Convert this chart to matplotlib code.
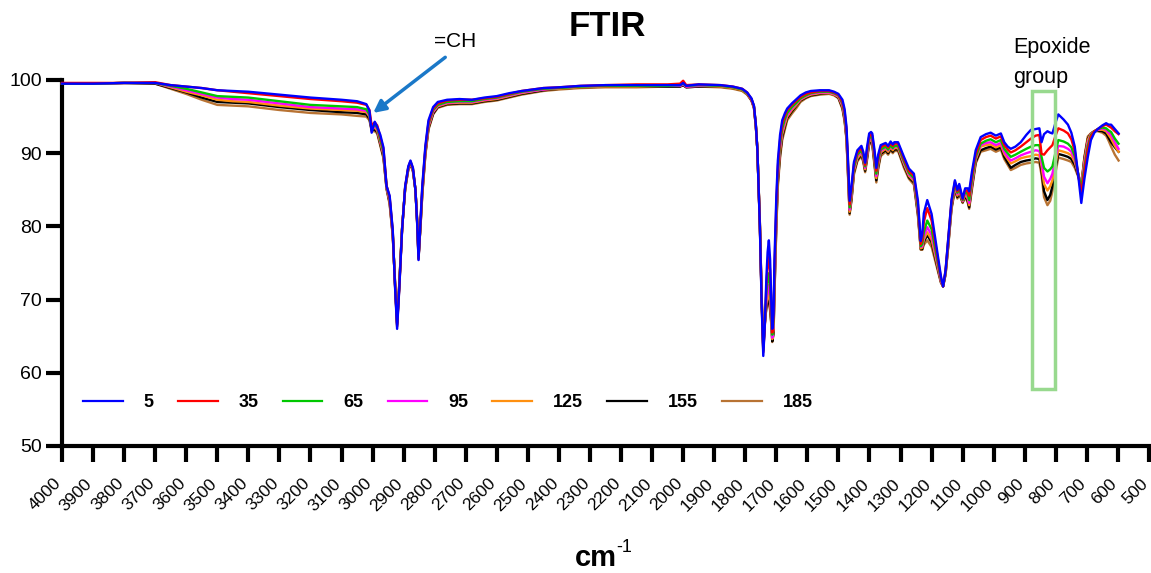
import matplotlib
matplotlib.use("Agg")
import matplotlib.pyplot as plt
from matplotlib.patches import Rectangle
from matplotlib.lines import Line2D

plt.rcParams['font.family'] = ['Liberation Sans', 'DejaVu Sans']

wavenumber = [
    4000, 3900, 3800, 3700, 3650, 3600, 3550, 3500, 3450, 3400,
    3300, 3200, 3100, 3050, 3020, 3010, 3003, 2993, 2985, 2975,
    2965, 2955, 2945, 2935, 2928, 2921, 2914, 2905, 2895, 2885,
    2878, 2870, 2862, 2856, 2852, 2846, 2840, 2830, 2820, 2805,
    2790, 2760, 2720, 2680, 2640, 2600, 2560, 2520, 2450, 2400,
    2330, 2250, 2150, 2050, 2010, 2000, 1990, 1950, 1880, 1840,
    1810, 1794, 1780, 1772, 1766, 1761, 1753, 1747, 1742, 1737,
    1732, 1728, 1724, 1720, 1716, 1713, 1709, 1706, 1700, 1695,
    1688, 1681, 1672, 1665, 1650, 1635, 1622, 1605, 1589, 1560,
    1530, 1514, 1500, 1487, 1480, 1474, 1468, 1464, 1458, 1450,
    1439, 1426, 1420, 1414, 1408, 1401, 1395, 1391, 1384, 1378,
    1372, 1364, 1348, 1340, 1332, 1325, 1320, 1308, 1289, 1273,
    1257, 1244, 1235, 1230, 1225, 1214, 1200, 1184, 1170, 1163,
    1155, 1147, 1136, 1125, 1117, 1111, 1100, 1092, 1084, 1079,
    1070, 1058, 1042, 1025, 1010, 993, 977, 966, 955, 945,
    930, 913, 895, 880, 865, 853, 846, 838, 827, 818,
    811, 800, 792, 775, 761, 750, 739, 728, 718, 708,
    697, 687, 676, 665, 650, 638, 630, 622, 610, 598,
]

t5 = [
    99.5, 99.5, 99.6, 99.6, 99.3, 99.1, 98.9, 98.6, 98.5, 98.4,
    98.0, 97.6, 97.3, 97.1, 96.7, 95.8, 92.8, 94.3, 93.6, 92.5,
    90.8, 85.5, 84.2, 79.5, 72.0, 66.0, 71.5, 79.5, 85.5, 88.2,
    89.0, 88.0, 85.0, 80.0, 75.4, 80.5, 85.5, 91.0, 94.5, 96.3,
    97.0, 97.3, 97.4, 97.3, 97.6, 97.8, 98.2, 98.5, 98.9, 99.0,
    99.2, 99.3, 99.3, 99.3, 99.3, 99.6, 99.2, 99.4, 99.3, 99.1,
    98.8, 98.3, 97.5, 96.5, 94.0, 90.5, 80.0, 69.0, 62.3, 66.5,
    73.0, 76.5, 78.1, 75.5, 69.5, 66.0, 68.0, 75.3, 84.0, 89.0,
    92.5, 94.5, 95.5, 96.1, 96.8, 97.4, 97.9, 98.3, 98.5, 98.6,
    98.6, 98.4, 98.1, 97.3, 96.0, 93.6, 88.0, 83.5, 85.5, 88.8,
    90.4, 91.0, 90.2, 88.7, 90.8, 92.7, 92.9, 92.7, 90.5, 88.0,
    89.8, 91.1, 91.4, 91.0, 91.6, 91.2, 91.5, 91.5, 89.5, 87.9,
    87.2, 83.5, 78.0, 79.0, 81.8, 83.6, 81.7, 77.2, 73.2, 71.8,
    74.0, 78.1, 83.6, 86.3, 85.0, 85.8, 83.8, 85.2, 85.2, 84.8,
    87.5, 90.4, 92.2, 92.6, 92.8, 92.4, 92.7, 91.5, 90.9, 90.6,
    90.9, 91.5, 92.5, 93.2, 93.3, 93.4, 91.5, 92.6, 93.0, 92.8,
    92.7, 94.3, 95.3, 94.6, 93.9, 92.8, 90.9, 87.0, 83.2, 86.5,
    89.5, 91.8, 92.8, 93.3, 93.8, 94.1, 93.9, 93.9, 93.3, 92.7,
]

t35 = [
    99.6, 99.6, 99.6, 99.7, 99.3, 99.1, 98.9, 98.6, 98.4, 98.2,
    97.8, 97.4, 97.1, 96.9, 96.6, 95.9, 93.8, 94.2, 93.8, 92.2,
    90.6, 85.6, 84.0, 79.3, 72.2, 66.3, 71.6, 79.5, 85.4, 88.1,
    88.9, 87.9, 85.0, 80.1, 75.5, 80.3, 85.2, 90.7, 94.2, 96.1,
    96.8, 97.2, 97.3, 97.3, 97.5, 97.7, 98.1, 98.5, 98.9, 99.0,
    99.2, 99.3, 99.4, 99.4, 99.5, 99.9, 99.3, 99.4, 99.3, 99.1,
    98.8, 98.3, 97.4, 96.4, 93.9, 90.5, 80.1, 69.3, 62.8, 66.5,
    72.0, 74.5, 75.8, 74.0, 69.0, 65.5, 67.5, 74.0, 83.0, 88.2,
    91.8, 94.0, 95.2, 95.9, 96.6, 97.2, 97.7, 98.1, 98.3, 98.5,
    98.5, 98.3, 98.0, 97.0, 95.6, 93.2, 87.5, 83.0, 85.0, 88.5,
    90.1, 90.7, 89.9, 88.4, 90.4, 92.3, 92.6, 92.4, 90.0, 87.6,
    89.4, 90.8, 91.2, 90.8, 91.4, 91.0, 91.3, 91.3, 89.2, 87.6,
    86.9, 83.0, 77.6, 78.2, 80.6, 82.5, 80.8, 76.6, 73.0, 71.8,
    74.0, 78.0, 83.4, 86.1, 84.8, 85.5, 83.7, 85.0, 84.8, 84.2,
    87.0, 89.9, 91.8, 92.2, 92.4, 92.0, 92.3, 91.1, 90.5, 90.1,
    90.4, 90.9, 91.5, 92.0, 92.4, 92.5, 89.9, 89.8, 90.4, 90.8,
    91.1, 92.5, 93.4, 93.1, 92.7, 91.9, 90.3, 87.0, 84.6, 87.5,
    90.5, 92.3, 93.0, 93.3, 93.7, 93.9, 93.7, 93.5, 93.0, 92.6,
]

t65 = [
    99.5, 99.5, 99.6, 99.6, 99.2, 98.8, 98.3, 97.8, 97.7, 97.6,
    97.1, 96.6, 96.4, 96.3, 96.0, 95.3, 93.5, 93.9, 93.5, 91.8,
    90.2, 85.5, 83.8, 79.2, 72.3, 66.5, 71.8, 79.6, 85.3, 88.0,
    88.8, 87.8, 85.0, 80.2, 75.6, 80.1, 85.0, 90.5, 94.0, 95.9,
    96.6, 97.0, 97.1, 97.1, 97.4, 97.6, 98.0, 98.4, 98.8, 98.9,
    99.1, 99.2, 99.2, 99.2, 99.3, 99.5, 99.2, 99.3, 99.2, 99.0,
    98.7, 98.2, 97.4, 96.4, 93.9, 90.5, 80.2, 69.5, 63.0, 66.6,
    71.0, 72.5, 73.6, 72.0, 68.0, 65.2, 67.0, 73.0, 82.0, 87.5,
    91.2, 93.4, 94.7, 95.5, 96.3, 96.9, 97.5, 97.9, 98.2, 98.4,
    98.4, 98.2, 97.9, 96.8, 95.3, 92.8, 87.0, 82.6, 84.6, 88.1,
    89.8, 90.4, 89.6, 88.2, 90.1, 92.0, 92.3, 92.1, 89.6, 87.2,
    89.0, 90.5, 90.9, 90.5, 91.1, 90.7, 91.0, 91.0, 88.9, 87.3,
    86.6, 82.5, 77.3, 77.6, 79.2, 80.8, 79.6, 76.0, 72.8, 71.8,
    73.8, 77.7, 83.1, 85.8, 84.6, 85.2, 83.6, 84.8, 84.4, 83.6,
    86.4, 89.5, 91.3, 91.7, 91.9, 91.5, 91.8, 90.6, 90.0, 89.5,
    89.8, 90.2, 90.6, 90.9, 91.1, 91.1, 89.5, 88.0, 87.5, 87.8,
    88.2, 90.3, 91.8, 91.6, 91.3, 90.8, 89.6, 87.2, 85.3, 88.0,
    91.0, 92.5, 93.0, 93.3, 93.5, 93.4, 93.1, 92.9, 92.0, 91.3,
]

t95 = [
    99.5, 99.5, 99.6, 99.6, 99.1, 98.6, 98.1, 97.6, 97.4, 97.3,
    96.8, 96.3, 96.1, 96.0, 95.8, 95.2, 93.4, 93.7, 93.3, 91.6,
    90.0, 85.4, 83.6, 79.0, 72.4, 66.6, 71.9, 79.6, 85.3, 87.9,
    88.7, 87.7, 85.0, 80.3, 75.7, 80.0, 84.8, 90.3, 93.8, 95.7,
    96.5, 96.9, 97.0, 97.0, 97.3, 97.5, 97.9, 98.3, 98.7, 98.9,
    99.1, 99.2, 99.2, 99.2, 99.2, 99.4, 99.1, 99.2, 99.2, 99.0,
    98.7, 98.2, 97.3, 96.3, 93.8, 90.5, 80.3, 69.7, 63.2, 66.7,
    70.0, 71.0, 72.0, 70.5, 67.5, 64.8, 66.5, 72.0, 81.3, 87.0,
    90.8, 93.0, 94.4, 95.2, 96.1, 96.8, 97.4, 97.8, 98.1, 98.3,
    98.3, 98.1, 97.8, 96.6, 95.0, 92.5, 86.7, 82.3, 84.3, 87.9,
    89.6, 90.2, 89.4, 88.0, 89.8, 91.8, 92.0, 91.8, 89.3, 86.9,
    88.7, 90.3, 90.8, 90.4, 91.0, 90.6, 90.9, 90.9, 88.7, 87.1,
    86.4, 82.2, 77.2, 77.3, 78.6, 79.9, 78.8, 75.6, 72.6, 71.8,
    73.7, 77.5, 82.9, 85.6, 84.4, 85.0, 83.5, 84.6, 84.1, 83.2,
    86.0, 89.3, 91.1, 91.4, 91.5, 91.1, 91.4, 90.2, 89.5, 89.0,
    89.3, 89.7, 90.0, 90.2, 90.4, 90.3, 88.8, 86.8, 85.9, 86.5,
    87.2, 89.6, 91.0, 90.9, 90.6, 90.2, 89.2, 87.2, 85.5, 88.5,
    91.4, 92.6, 93.0, 93.2, 93.4, 93.2, 92.8, 92.5, 91.5, 90.6,
]

t125 = [
    99.5, 99.5, 99.6, 99.6, 99.0, 98.4, 97.9, 97.3, 97.1, 97.0,
    96.5, 96.1, 95.9, 95.8, 95.6, 95.0, 93.3, 93.5, 93.1, 91.4,
    89.8, 85.3, 83.4, 78.9, 72.5, 66.7, 72.0, 79.7, 85.2, 87.9,
    88.7, 87.7, 85.0, 80.4, 75.8, 79.9, 84.6, 90.1, 93.6, 95.6,
    96.4, 96.8, 96.9, 96.9, 97.2, 97.4, 97.8, 98.2, 98.7, 98.8,
    99.0, 99.1, 99.1, 99.2, 99.2, 99.4, 99.1, 99.2, 99.1, 98.9,
    98.6, 98.1, 97.3, 96.3, 93.8, 90.5, 80.4, 69.9, 63.4, 66.8,
    69.5, 70.3, 71.0, 69.5, 67.0, 64.6, 66.0, 71.5, 80.8, 86.5,
    90.3, 92.6, 94.0, 95.0, 95.9, 96.6, 97.3, 97.7, 98.0, 98.2,
    98.2, 98.0, 97.7, 96.4, 94.8, 92.2, 86.4, 82.0, 84.0, 87.6,
    89.3, 90.0, 89.2, 87.8, 89.6, 91.6, 91.8, 91.6, 89.0, 86.6,
    88.4, 90.1, 90.6, 90.2, 90.8, 90.4, 90.7, 90.7, 88.5, 86.9,
    86.2, 82.0, 77.0, 77.1, 78.2, 79.2, 78.2, 75.2, 72.5, 71.8,
    73.6, 77.3, 82.7, 85.4, 84.2, 84.8, 83.4, 84.4, 83.8, 82.9,
    85.7, 89.1, 90.9, 91.1, 91.2, 90.8, 91.1, 89.9, 89.2, 88.6,
    88.9, 89.3, 89.5, 89.6, 89.8, 89.7, 88.2, 85.8, 84.9, 85.5,
    86.3, 88.8, 90.4, 90.2, 90.0, 89.7, 88.8, 87.2, 85.6, 89.0,
    91.8, 92.7, 93.0, 93.2, 93.2, 93.0, 92.5, 92.0, 91.0, 90.2,
]

t155 = [
    99.5, 99.5, 99.6, 99.5, 98.9, 98.3, 97.6, 97.0, 96.9, 96.8,
    96.3, 95.9, 95.6, 95.5, 95.3, 94.7, 93.2, 93.2, 92.9, 91.2,
    89.5, 85.2, 83.2, 78.8, 72.6, 66.8, 72.1, 79.7, 85.2, 87.8,
    88.6, 87.6, 85.0, 80.5, 75.9, 79.8, 84.4, 89.9, 93.4, 95.4,
    96.3, 96.7, 96.8, 96.8, 97.1, 97.3, 97.7, 98.1, 98.6, 98.8,
    99.0, 99.1, 99.1, 99.1, 99.1, 99.3, 99.0, 99.1, 99.1, 98.9,
    98.6, 98.1, 97.2, 96.2, 93.7, 90.5, 80.5, 70.0, 63.5, 66.8,
    69.0, 69.7, 70.0, 68.8, 66.7, 64.3, 65.5, 71.0, 80.2, 86.0,
    89.8, 92.2, 93.7, 94.8, 95.7, 96.5, 97.2, 97.6, 97.9, 98.1,
    98.2, 98.0, 97.6, 96.2, 94.5, 92.0, 86.1, 81.8, 83.7, 87.4,
    89.1, 89.8, 89.0, 87.6, 89.3, 91.4, 91.5, 91.4, 88.7, 86.3,
    88.1, 89.9, 90.4, 90.0, 90.6, 90.2, 90.5, 90.5, 88.3, 86.7,
    86.0, 81.7, 76.9, 76.9, 77.9, 78.8, 77.8, 74.9, 72.4, 71.8,
    73.5, 77.1, 82.5, 85.2, 84.0, 84.6, 83.3, 84.2, 83.5, 82.6,
    85.4, 88.8, 90.4, 90.7, 90.9, 90.5, 90.8, 89.5, 88.7, 88.0,
    88.4, 88.8, 89.0, 89.1, 89.3, 89.2, 87.6, 84.8, 83.6, 84.3,
    85.5, 88.2, 89.9, 89.7, 89.5, 89.2, 88.4, 87.0, 85.6, 89.3,
    92.0, 92.7, 93.0, 93.1, 93.0, 92.7, 92.1, 91.5, 90.8, 90.2,
]

t185 = [
    99.5, 99.5, 99.6, 99.5, 98.8, 98.1, 97.3, 96.6, 96.5, 96.4,
    95.9, 95.5, 95.3, 95.1, 95.0, 94.5, 93.0, 93.0, 92.7, 91.0,
    89.3, 85.1, 83.0, 78.6, 72.7, 66.9, 72.2, 79.8, 85.1, 87.7,
    88.5, 87.5, 85.0, 80.6, 76.0, 79.7, 84.2, 89.7, 93.2, 95.3,
    96.2, 96.6, 96.7, 96.7, 97.0, 97.2, 97.6, 98.0, 98.5, 98.7,
    98.9, 99.0, 99.0, 99.1, 99.1, 99.3, 99.0, 99.1, 99.0, 98.8,
    98.5, 98.0, 97.2, 96.2, 93.7, 90.5, 80.6, 70.1, 63.6, 66.9,
    68.8, 69.4, 69.7, 68.5, 66.5, 64.2, 65.2, 70.5, 79.8, 85.5,
    89.3, 91.8, 93.3, 94.5, 95.4, 96.2, 97.0, 97.5, 97.8, 98.0,
    98.1, 97.9, 97.5, 96.0, 94.3, 91.8, 85.8, 81.6, 83.5, 87.1,
    88.9, 89.6, 88.8, 87.4, 89.0, 91.2, 91.3, 91.1, 88.4, 86.0,
    87.8, 89.6, 90.2, 89.8, 90.4, 90.0, 90.3, 90.3, 88.0, 86.5,
    85.7, 81.4, 76.8, 76.8, 77.5, 78.1, 77.2, 74.6, 72.3, 71.8,
    73.4, 77.0, 82.3, 85.0, 83.8, 84.4, 83.2, 84.0, 83.3, 82.4,
    85.1, 88.6, 90.2, 90.4, 90.6, 90.2, 90.5, 89.2, 88.4, 87.7,
    88.0, 88.4, 88.6, 88.7, 88.8, 88.7, 87.0, 84.0, 82.9, 83.5,
    84.8, 87.6, 89.4, 89.2, 89.0, 88.8, 88.0, 86.8, 85.5, 89.5,
    92.3, 92.7, 93.0, 93.0, 92.8, 92.4, 91.7, 90.9, 89.8, 89.0,
]

series_labels = ["5", "35", "65", "95", "125", "155", "185"]
series_values = [t5, t35, t65, t95, t125, t155, t185]
series_colors = ["#0000FF", "#FF0000", "#00C800", "#FF00FF", "#FF9010", "#000000", "#B87333"]

x_ticks = list(range(4000, 499, -100))
y_ticks = [50, 60, 70, 80, 90, 100]

W, H = 1151, 573
fig = plt.figure(figsize=(W / 100, H / 100), dpi=100)
ax = fig.add_axes([62 / W, 1 - 446 / H, (1149 - 62) / W, (446 - 80) / H])

for i in range(len(series_values) - 1, -1, -1):
    ax.plot(wavenumber, series_values[i], color=series_colors[i], lw=1.7,
            zorder=3 + (len(series_values) - i), clip_on=False)

ax.set_xlim(4000, 500)
ax.set_ylim(50, 100)
ax.set_xticks(x_ticks)
ax.set_xticklabels([str(v) for v in x_ticks], rotation=45, ha='right',
                   va='baseline', rotation_mode='anchor', fontsize=12.5)
ax.set_yticks(y_ticks)
ax.set_yticklabels([str(v) for v in y_ticks], fontsize=14)

for s in ['top', 'right']:
    ax.spines[s].set_visible(False)
for s in ['left', 'bottom']:
    ax.spines[s].set_linewidth(3)
ax.tick_params(axis='both', direction='out', length=11.5, width=3)
ax.tick_params(axis='x', pad=16)
ax.tick_params(axis='y', pad=3)

handles = [Line2D([], [], color=c, lw=1.6) for c in series_colors]
ax.legend(handles, series_labels, ncol=7, frameon=False, loc='center left',
          bbox_to_anchor=(0.0193, 0.1175), borderaxespad=0, borderpad=0,
          handlelength=2.2, handletextpad=1.15, columnspacing=1.35,
          prop={'weight': 'bold', 'size': 13})

# =CH annotation
ax.annotate('', xy=(2998, 95.5), xytext=(2766, 103.1),
            arrowprops=dict(arrowstyle='-|>', color='#1A78C8', lw=2.5,
                            mutation_scale=18, shrinkA=0, shrinkB=0),
            annotation_clip=False)
ax.text(2733, 105.3, '=CH', ha='center', va='center', fontsize=15)

# Epoxide group box
ax.add_patch(Rectangle((803, 57.8), 74, 40.7, fill=False, edgecolor='#98D98E',
                       lw=2.5, zorder=20, clip_on=False))
ax.text(938, 105.9, 'Epoxide\ngroup', ha='left', va='top', fontsize=15.5,
        linespacing=1.55)

fig.text(607 / W, 1 - 27 / H, 'FTIR', ha='center', va='center',
         fontsize=25, fontweight='bold')
fig.text(596 / W, 1 - 566 / H, 'cm', ha='center', va='baseline',
         fontsize=21, fontweight='bold')
fig.text(616 / W, 1 - 552 / H, '-1', ha='left', va='baseline',
         fontsize=13)

fig.savefig('out.png', dpi=100)
